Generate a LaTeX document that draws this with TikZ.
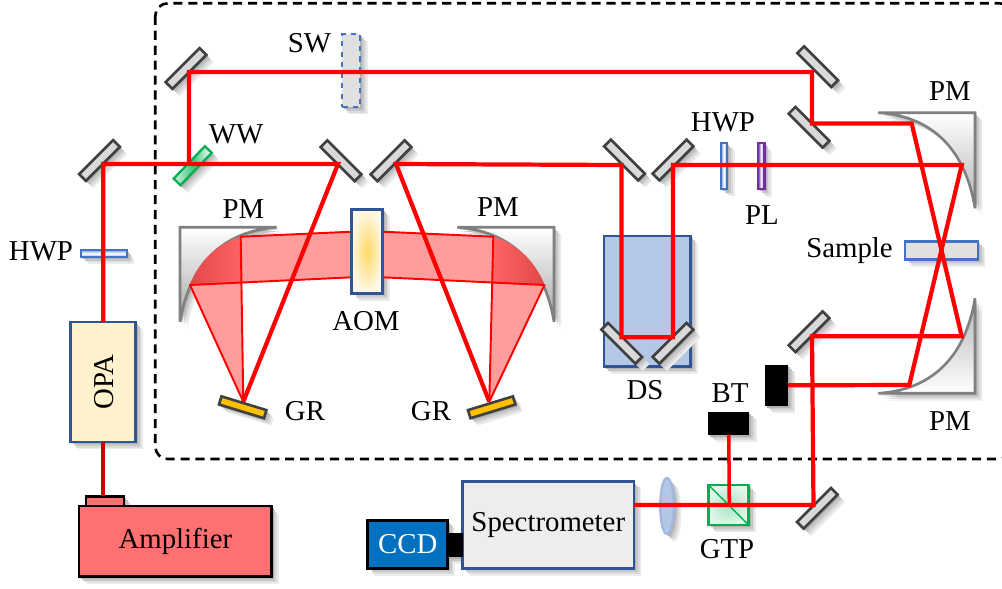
\documentclass[tikz,border=0pt]{standalone}
\usepackage{fontspec}
\setmainfont{Liberation Serif}
\usetikzlibrary{shapes.geometric}

\definecolor{beamred}{HTML}{FF0000}
\definecolor{fanpink}{HTML}{FF9C9C}
\definecolor{pmdark}{HTML}{E04848}
\definecolor{pmred}{HTML}{FF6464}
\definecolor{edgeblue}{HTML}{2F5597}
\definecolor{waveblue}{HTML}{4472C4}
\definecolor{dsblue}{HTML}{B4C7E7}
\definecolor{ampred}{HTML}{FF7070}
\definecolor{ccdblue}{HTML}{0070C0}
\definecolor{gtpgreen}{HTML}{00B050}
\definecolor{plpurple}{HTML}{7030A0}
\definecolor{opacream}{HTML}{FFF2CC}
\definecolor{aomgold}{HTML}{FFD966}
\definecolor{aomrim}{HTML}{FFF8E6}
\definecolor{grgold}{HTML}{FFC000}

\pgfdeclarelayer{deep}
\pgfdeclarelayer{shade}
\pgfsetlayers{deep,shade,main}

\newcommand{\pmA}{(180,321.7) -- (180,227.3) -- (276.7,227.3) .. controls (225,231) and (190,262) .. cycle}
\newcommand{\pmB}{(554,321.7) -- (554,227.3) -- (457.3,227.3) .. controls (509,231) and (544,262) .. cycle}
\newcommand{\pmC}{(975,208.3) -- (975,112.7) -- (878.3,112.7) .. controls (930,116) and (965,147) .. cycle}
\newcommand{\pmD}{(975,298.3) -- (975,393.3) -- (878.3,393.3) .. controls (930,390) and (965,359) .. cycle}

\tikzset{
	boxbase/.style={rectangle,inner sep=0pt,outer sep=0pt},
	mirror/.style={boxbase,rotate=#1,draw=black!75,fill=black!15,line width=1.5pt,minimum width=.96cm,minimum height=.19cm},
	grating/.style={boxbase,rotate=#1,draw=black!75,fill=grgold,line width=1.5pt,minimum width=.94cm,minimum height=.17cm},
}
\tikzstyle{beam}=[beamred,line width=2.4pt,line join=miter]
\tikzstyle{fan}=[beamred,line width=1.1pt,line join=round]
\tikzstyle{pmirror}=[draw=black!50,line width=1.5pt]
\tikzstyle{instr}=[boxbase,line width=1.5pt,font=\fontsize{16.4}{18}\selectfont]
\tikzstyle{lab}=[inner sep=0pt,font=\fontsize{16.4}{18}\selectfont]

\begin{document}
\begin{tikzpicture}[x=0.02cm,y=-0.02cm]
	\clip (0,0) rectangle (1002,589);
	\draw[black,line width=1.5pt,dash pattern=on 5.2pt off 3.3pt,rounded corners=.25cm] (155.3,3.3) rectangle (1012,459);

	\path[pmirror,top color=white,bottom color=black!35] \pmA;
	\path[pmirror,top color=white,bottom color=black!35] \pmB;
	\path[pmirror,top color=white,bottom color=black!30] \pmC;
	\path[pmirror,top color=black!30,bottom color=white] \pmD;

	\coordinate (grA) at (243.3,401.7);
	\coordinate (grB) at (489.3,401.7);
	\coordinate (pmAlow) at (190,285);
	\coordinate (pmAhigh) at (240.7,236.7);
	\coordinate (pmAmid) at (241.5,282.7);
	\coordinate (pmBlow) at (544.5,285);
	\coordinate (pmBhigh) at (493.3,236.7);
	\coordinate (pmBmid) at (492.5,282.7);
	\coordinate (aomTL) at (351.7,231.7);
	\coordinate (aomBL) at (351.7,277.3);
	\coordinate (aomTR) at (382.7,231.7);
	\coordinate (aomBR) at (382.7,277.3);

	\fill[fanpink] (grA) -- (pmAlow) -- (pmAmid) -- cycle;
	\fill[fanpink] (grB) -- (pmBlow) -- (pmBmid) -- cycle;
	\fill[fanpink] (pmAhigh) -- (aomTL) -- (aomBL) -- (pmAmid) -- cycle;
	\fill[fanpink] (pmBhigh) -- (aomTR) -- (aomBR) -- (pmBmid) -- cycle;
	\shade[left color=pmdark,right color=pmred] (pmAlow) .. controls (200,258) and (220,243) .. (pmAhigh) -- (pmAmid) -- cycle;
	\shade[right color=pmdark,left color=pmred] (pmBlow) .. controls (534,258) and (514,243) .. (pmBhigh) -- (pmBmid) -- cycle;
	\draw[fan] (aomTL) -- (pmAhigh) -- (grA) -- (pmAlow) -- (aomBL);
	\draw[fan] (aomTR) -- (pmBhigh) -- (grB) -- (pmBlow) -- (aomBR);

	\begin{pgfonlayer}{deep}
	\foreach \s/\g in {4.2/8,3.2/14,2.2/22,1.2/30}
		\fill[black!\g,xshift=\s pt,yshift=-\s pt] (604,236) rectangle (690.7,366.7);
	\node[instr,draw=edgeblue,fill=dsblue,minimum width=1.73cm,minimum height=2.61cm] (ds) at (647.3,301.3) {};
	\end{pgfonlayer}
	\node[instr,draw=waveblue,fill=black!12,minimum width=1.46cm,minimum height=.36cm] (sample) at (941.6,250.3) {};
	\node[boxbase,draw=waveblue,dashed,fill=black!12,line width=1.2pt,minimum width=.36cm,minimum height=1.46cm] (sw) at (351.3,70.5) {};
	\node[boxbase,draw=waveblue,line width=1.3pt,top color=waveblue!60,bottom color=waveblue!60,middle color=white,minimum width=.92cm,minimum height=.13cm] (hwpA) at (103.7,253.6) {};
	\node[boxbase,draw=waveblue,line width=1.3pt,left color=waveblue!70,right color=waveblue!70,middle color=white,minimum width=.13cm,minimum height=.92cm] (hwpB) at (724,165.7) {};
	\node[boxbase,draw=plpurple,line width=1.3pt,left color=plpurple,right color=plpurple,middle color=white,minimum width=.13cm,minimum height=.92cm] (pl) at (761.3,166.2) {};

	\node[mirror=45] (mA) at (99.5,160.5) {};
	\node[mirror=45] (mB) at (186,68.5) {};
	\node[mirror=-45] (mC) at (341,160.7) {};
	\node[mirror=45] (mD) at (391,160.7) {};
	\node[mirror=-45] (mE) at (624.5,160) {};
	\node[mirror=45] (mF) at (673,160) {};
	\node[mirror=-45] (mG) at (817.7,66.7) {};
	\node[mirror=-45] (mH) at (809,127.3) {};
	\node[mirror=-45] (mI) at (621.7,343.3) {};
	\node[mirror=45] (mJ) at (673,343.3) {};
	\node[mirror=45] (mK) at (809,331.7) {};
	\node[mirror=45] (mL) at (817.3,508.3) {};
	\node[grating=-17] (gA) at (242.7,407.3) {};
	\node[grating=17] (gB) at (491.7,407.3) {};

	\node[boxbase,rotate=46,draw=gtpgreen,line width=1.3pt,left color=gtpgreen!15,right color=white,middle color=gtpgreen!75,minimum width=.9cm,minimum height=.19cm] (ww) at (192.7,165.7) {};
	\node[instr,draw=edgeblue,fill=opacream,minimum width=1.3cm,minimum height=2.4cm] (opa) at (103.3,382) {};
	\node[instr,draw=black,fill=ampred,minimum width=.76cm,minimum height=.2cm] (ampbump) at (105,501.2) {};
	\node[instr,draw=black,fill=ampred,minimum width=3.85cm,minimum height=1.41cm] (amp) at (175.4,541.4) {Amplifier};
	\draw[red!80!black,line width=2.2pt] (opa.south) -- (ampbump.north -| opa.south);

	\node[boxbase,draw=edgeblue,line width=1.5pt,inner color=aomgold,outer color=aomrim,minimum width=.62cm,minimum height=1.68cm] (aom) at (367.2,251.3) {};
	\node[instr,draw=edgeblue,fill=black!7,minimum width=3.43cm,minimum height=1.73cm] (spec) at (548.3,525) {Spectrometer};
	\node[boxbase,fill=black,minimum width=.3cm,minimum height=.47cm] (ccdneck) at (455.3,545) {};
	\node[instr,draw=black,fill=ccdblue,text=white,minimum width=1.6cm,minimum height=.95cm] (ccd) at (407.7,544.5) {CCD};
	\node[boxbase,fill=black,minimum width=.46cm,minimum height=.81cm] (dumpA) at (776.5,385.3) {};
	\node[boxbase,fill=black,minimum width=.82cm,minimum height=.45cm] (dumpB) at (728.8,423.3) {};
	\node[boxbase,draw=gtpgreen,line width=1.5pt,inner color=gtpgreen!35,outer color=gtpgreen!12,minimum width=.8cm,minimum height=.8cm] (gtp) at (728.7,505) {};
	\node[ellipse,draw=waveblue!50,fill=dsblue,line width=1.3pt,inner sep=0pt,minimum width=.27cm,minimum height=1.12cm] (lens) at (667,506) {};
	\draw[gtpgreen,line width=.8pt] (gtp.north west) -- (gtp.south east);

	\begin{pgfonlayer}{shade}
	\foreach \s/\g in {4.2/8,3.2/14,2.2/22,1.2/30} {
		\foreach \n in {mA,mB,mC,mD,mE,mF,mG,mH,mI,mJ,mK,mL,gA,gB,ww,sample,sw,hwpA,hwpB,pl,opa,ampbump,amp,aom,spec,ccdneck,ccd,dumpA,dumpB,gtp}
			\fill[black!\g] ([xshift=\s pt,yshift=-\s pt]\n.north west) -- ([xshift=\s pt,yshift=-\s pt]\n.north east) -- ([xshift=\s pt,yshift=-\s pt]\n.south east) -- ([xshift=\s pt,yshift=-\s pt]\n.south west) -- cycle;
		\fill[black!\g] ([xshift=\s pt,yshift=-\s pt]lens) ellipse (7 and 28);
		\foreach \p in {\pmA,\pmB,\pmC,\pmD}
			\fill[black!\g,xshift=\s pt,yshift=-\s pt] \p;
	}
	\end{pgfonlayer}

	\coordinate (hitA) at (103.3,164);
	\coordinate (hitB) at (189,164);
	\coordinate (hitC) at (189,72);
	\coordinate (hitD) at (338,164);
	\coordinate (hitE) at (396,164);
	\coordinate (hitF) at (621.5,165);
	\coordinate (hitG) at (621.5,337.3);
	\coordinate (hitH) at (673,337.3);
	\coordinate (hitI) at (673,165);
	\coordinate (hitJ) at (961.7,165);
	\coordinate (hitK) at (961.7,336.3);
	\coordinate (hitL) at (812,336.3);
	\coordinate (hitM) at (813.5,505);
	\coordinate (hitN) at (812,72);
	\coordinate (hitO) at (812,123.5);
	\coordinate (hitP) at (911.7,123.5);
	\coordinate (hitQ) at (909.3,385);
	\coordinate (hitR) at (729.3,505);

	\draw[beam] (opa.north) -- (hitA) -- (hitD) -- (grA);
	\draw[beam] (hitB) -- (hitC) -- (hitN) -- (hitO) -- (hitP) -- (hitK) -- (hitL) -- (hitM) -- (spec.east |- hitM);
	\draw[beam] (grB) -- (hitE) -- (hitF) -- (hitG) -- (hitH) -- (hitI) -- (hitJ) -- (hitQ) -- (dumpA.east);
	\draw[beam,line width=2pt] (dumpB.south) -- (hitR);

	\node[lab] (swlab) at (309.5,43) {SW};
	\node[lab] (wwlab) at (236,134) {WW};
	\node[lab] (pmAlab) at (243.5,209) {PM};
	\node[lab] (hwpAlab) at (41,251) {HWP};
	\node[lab] (aomlab) at (366,321) {AOM};
	\node[lab] (grAlab) at (305,411) {GR};
	\node[lab] (grBlab) at (431,411) {GR};
	\node[lab] (pmBlab) at (498,207) {PM};
	\node[lab] (dslab) at (645,390) {DS};
	\node[lab] (btlab) at (730,393) {BT};
	\node[lab] (hwpBlab) at (723,122) {HWP};
	\node[lab] (pllab) at (762,215) {PL};
	\node[lab] (samplelab) at (849.5,251) {Sample};
	\node[lab] (pmClab) at (950,91) {PM};
	\node[lab] (pmDlab) at (950,421) {PM};
	\node[lab] (gtplab) at (727,549) {GTP};
	\node[lab,rotate=90] (opalab) at (104,382) {OPA};
\end{tikzpicture}
\end{document}
